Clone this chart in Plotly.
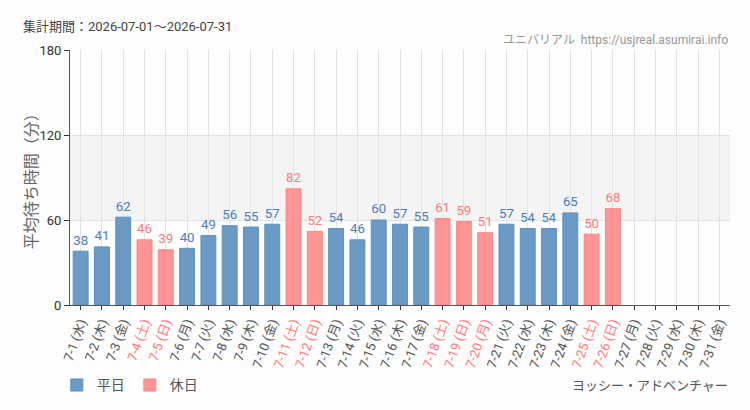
import plotly.graph_objects as go

dates = [f"7-{d}" for d in range(1, 32)]
weekdays = ["水","木","金","土","日","月","火","水","木","金","土","日","月","火","水","木","金","土","日","月","火","水","木","金","土","日","月","火","水","木","金"]
values = [38, 41, 62, 46, 39, 40, 49, 56, 55, 57, 82, 52, 54, 46, 60, 57, 55, 61, 59, 51, 57, 54, 54, 65, 50, 68, None, None, None, None, None]
holiday = [False, False, False, True, True, False, False, False, False, False, True, True, False, False, False, False, False, True, True, True, False, False, False, False, True, True, False, False, False, False, False]

BLUE = "#6b9ac7"
BLUE_TXT = "#4a7fb8"
RED = "#ff9494"
RED_TXT = "#ff7a7a"
FONT = "Roboto, Noto Sans CJK JP, sans-serif"

cats = [f"{d} ({w})" for d, w in zip(dates, weekdays)]
ticktext = [f'<span style="color:{RED_TXT if h else "#555"}">{c}</span>' for c, h in zip(cats, holiday)]

wk_vals = [v if (v is not None and not h) else None for v, h in zip(values, holiday)]
ho_vals = [v if (v is not None and h) else None for v, h in zip(values, holiday)]

fig = go.Figure()
fig.add_trace(go.Bar(x=cats, y=wk_vals, name="平日", marker=dict(color=BLUE, line=dict(color="#5f8fbf", width=1)),
                     width=0.7, text=[str(v) if v is not None else "" for v in wk_vals], textposition="outside",
                     textfont=dict(color=BLUE_TXT, size=15, family=FONT), cliponaxis=False))
fig.add_trace(go.Bar(x=cats, y=ho_vals, name="休日", marker=dict(color=RED, line=dict(color="#ff8585", width=1)),
                     width=0.7, text=[str(v) if v is not None else "" for v in ho_vals], textposition="outside",
                     textfont=dict(color=RED_TXT, size=15, family=FONT), cliponaxis=False))

fig.add_shape(type="rect", xref="paper", yref="y", x0=0, x1=1, y0=60, y1=120,
              fillcolor="#f3f4f3", line=dict(width=0), layer="below")

fig.update_layout(
    width=750, height=410,
    margin=dict(l=70, r=20, t=50, b=105),
    paper_bgcolor="#fcfdfc", plot_bgcolor="#fcfdfc",
    barmode="overlay", bargap=0.3,
    font=dict(family=FONT, color="#555", size=13),
    showlegend=True,
    legend=dict(orientation="h", x=-0.02, y=0.06, yref="container", xanchor="left", yanchor="middle",
                font=dict(size=14, family=FONT, color="#555"), bgcolor="rgba(0,0,0,0)",
                traceorder="normal"),
    xaxis=dict(type="category", categoryorder="array", categoryarray=cats,
               tickmode="array", tickvals=cats, ticktext=ticktext, tickangle=-70,
               showgrid=True, gridcolor="#e3e3e3", gridwidth=1,
               showline=True, linecolor="#555", linewidth=1,
               ticks="outside", ticklen=4, tickcolor="#333", automargin=False,
               tickfont=dict(size=13, family=FONT), range=[-0.5, 30.5]),
    yaxis=dict(range=[0, 180], tickvals=[0, 60, 120, 180], showgrid=True, gridcolor="#e3e3e3",
               showline=True, linecolor="#555", linewidth=1, ticks="outside", ticklen=5, tickcolor="#333",
               tickfont=dict(size=13, family=FONT, color="#333"), zeroline=False, automargin=False),
)

fig.add_annotation(text="平均待ち時間（分）", xref="paper", yref="paper", x=-0.061, y=0.5,
                   xanchor="center", yanchor="middle", textangle=-90, showarrow=False,
                   font=dict(size=16, color="#666", family="Noto Sans CJK JP"))
fig.add_annotation(text="集計期間：2026-07-01〜2026-07-31", xref="paper", yref="paper",
                   x=-0.075, y=1.0, xanchor="left", yanchor="bottom", yshift=14, showarrow=False,
                   font=dict(size=13, color="#444", family=FONT))
fig.add_annotation(text="ユニバリアル  https://usjreal.asumirai.info", xref="paper", yref="paper",
                   x=1.0, y=1.0, xanchor="right", yanchor="bottom", yshift=1, showarrow=False,
                   font=dict(size=12, color="#999", family=FONT))
fig.add_annotation(text="ヨッシー・アドベンチャー", xref="paper", yref="paper",
                   x=1.0, y=-0.314, xanchor="right", yanchor="middle", showarrow=False,
                   font=dict(size=13, color="#555", family=FONT))

fig.write_html("out.html")
